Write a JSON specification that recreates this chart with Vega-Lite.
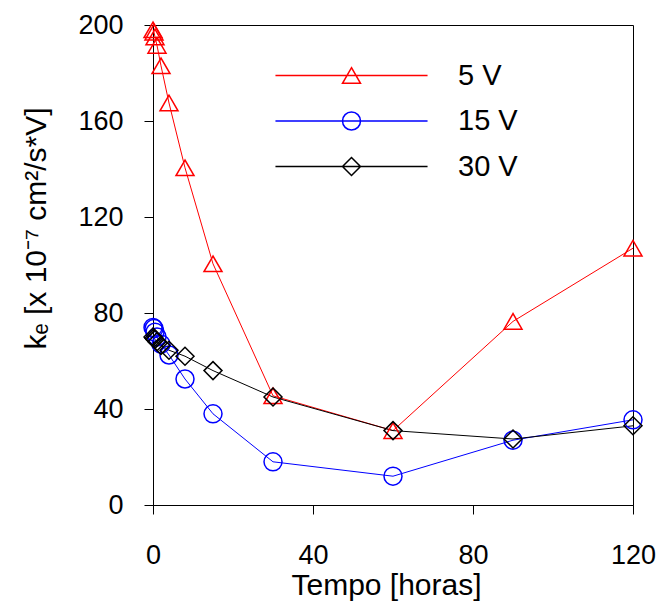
{
  "$schema": "https://vega.github.io/schema/vega-lite/v6.json",
  "width": 480,
  "height": 480,
  "autosize": {"type": "none"},
  "padding": {"left": 153, "top": 25, "right": 30, "bottom": 101},
  "background": "white",
  "config": {
    "view": {"stroke": "black", "strokeWidth": 1},
    "font": "Liberation Sans",
    "axis": {
      "grid": false,
      "domainColor": "black",
      "tickColor": "black",
      "tickSize": 9,
      "labelColor": "black",
      "labelFontSize": 27,
      "labelFlush": false,
      "labelOverlap": false,
      "titleColor": "black",
      "titleFontSize": 30,
      "titleFontWeight": "normal"
    },
    "legend": {
      "orient": "none",
      "legendX": 184,
      "legendY": 36,
      "padding": 0,
      "symbolSize": 324,
      "symbolStrokeWidth": 1.5,
      "symbolOpacity": 1,
      "labelFontSize": 29,
      "labelColor": "black",
      "labelOffset": 92,
      "rowPadding": 15.5
    }
  },
  "data": {
    "values": [
      {"t": 0, "k": 198, "s": "5 V"},
      {"t": 0.25, "k": 197, "s": "5 V"},
      {"t": 0.5, "k": 195, "s": "5 V"},
      {"t": 1, "k": 191.5, "s": "5 V"},
      {"t": 2, "k": 183, "s": "5 V"},
      {"t": 4, "k": 167.5, "s": "5 V"},
      {"t": 8, "k": 140.5, "s": "5 V"},
      {"t": 15, "k": 100.5, "s": "5 V"},
      {"t": 30, "k": 45.5, "s": "5 V"},
      {"t": 60, "k": 31, "s": "5 V"},
      {"t": 90, "k": 76.5, "s": "5 V"},
      {"t": 120, "k": 107, "s": "5 V"},
      {"t": 0, "k": 74, "s": "15 V"},
      {"t": 0.25, "k": 73.5, "s": "15 V"},
      {"t": 0.5, "k": 72, "s": "15 V"},
      {"t": 1, "k": 70, "s": "15 V"},
      {"t": 2, "k": 67, "s": "15 V"},
      {"t": 4, "k": 62.5, "s": "15 V"},
      {"t": 8, "k": 52.5, "s": "15 V"},
      {"t": 15, "k": 38, "s": "15 V"},
      {"t": 30, "k": 18, "s": "15 V"},
      {"t": 60, "k": 12, "s": "15 V"},
      {"t": 90, "k": 27, "s": "15 V"},
      {"t": 120, "k": 35.5, "s": "15 V"},
      {"t": 0, "k": 70, "s": "30 V"},
      {"t": 0.25, "k": 69.5, "s": "30 V"},
      {"t": 0.5, "k": 69, "s": "30 V"},
      {"t": 1, "k": 68, "s": "30 V"},
      {"t": 2, "k": 66.5, "s": "30 V"},
      {"t": 4, "k": 64.5, "s": "30 V"},
      {"t": 8, "k": 62, "s": "30 V"},
      {"t": 15, "k": 56, "s": "30 V"},
      {"t": 30, "k": 45, "s": "30 V"},
      {"t": 60, "k": 31, "s": "30 V"},
      {"t": 90, "k": 27.5, "s": "30 V"},
      {"t": 120, "k": 33, "s": "30 V"}
    ]
  },
  "encoding": {
    "x": {
      "field": "t",
      "type": "quantitative",
      "scale": {"domain": [0, 120], "nice": false, "zero": false},
      "axis": {
        "values": [0, 40, 80, 120],
        "title": "Tempo [horas]",
        "labelBaseline": "alphabetic",
        "labelPadding": 49,
        "titleBaseline": "alphabetic",
        "titleX": 233,
        "titleY": 89
      }
    },
    "y": {
      "field": "k",
      "type": "quantitative",
      "scale": {"domain": [0, 200], "nice": false},
      "axis": {
        "values": [0, 40, 80, 120, 160, 200],
        "title": "kₑ [x 10⁻⁷ cm²/s*V]",
        "labelPadding": 21,
        "titleAngle": -90,
        "titleAlign": "center",
        "titleBaseline": "bottom",
        "titleX": -102,
        "titleY": 203
      }
    }
  },
  "layer": [
    {
      "mark": {"type": "line", "strokeWidth": 1, "clip": false},
      "encoding": {
        "color": {
          "field": "s",
          "type": "nominal",
          "scale": {"domain": ["5 V", "15 V", "30 V"], "range": ["#ff0000", "#0000ff", "#000000"]},
          "legend": null
        }
      }
    },
    {
      "mark": {"type": "point", "filled": false, "size": 324, "strokeWidth": 1.5, "opacity": 1, "clip": false},
      "encoding": {
        "color": {
          "field": "s",
          "type": "nominal",
          "scale": {"domain": ["5 V", "15 V", "30 V"], "range": ["#ff0000", "#0000ff", "#000000"]},
          "legend": null
        },
        "shape": {
          "field": "s",
          "type": "nominal",
          "scale": {"domain": ["5 V", "15 V", "30 V"], "range": ["triangle-up", "circle", "diamond"]},
          "legend": null
        }
      }
    },
    {
      "mark": {"type": "point", "filled": false, "size": 324, "strokeWidth": 1.5, "opacity": 0, "clip": false},
      "encoding": {
        "color": {
          "field": "s",
          "type": "nominal",
          "scale": {"domain": ["5 V", "15 V", "30 V"], "range": ["#ff0000", "#0000ff", "#000000"]},
          "legend": {"title": null, "symbolOpacity": 1}
        },
        "shape": {
          "field": "s",
          "type": "nominal",
          "scale": {
            "domain": ["5 V", "15 V", "30 V"],
            "range": [
              "M-8.45,0H8.45M0,-0.866L1,0.866L-1,0.866Z",
              "M-8.45,0H8.45M1,0A1,1,0,1,1,-1,0A1,1,0,1,1,1,0Z",
              "M-8.45,0H8.45M-1,0L0,-1L1,0L0,1Z"
            ]
          },
          "legend": {"title": null, "symbolOpacity": 1}
        }
      }
    }
  ],
  "resolve": {
    "scale": {"shape": "independent"},
    "legend": {"color": "independent", "shape": "independent"}
  }
}
